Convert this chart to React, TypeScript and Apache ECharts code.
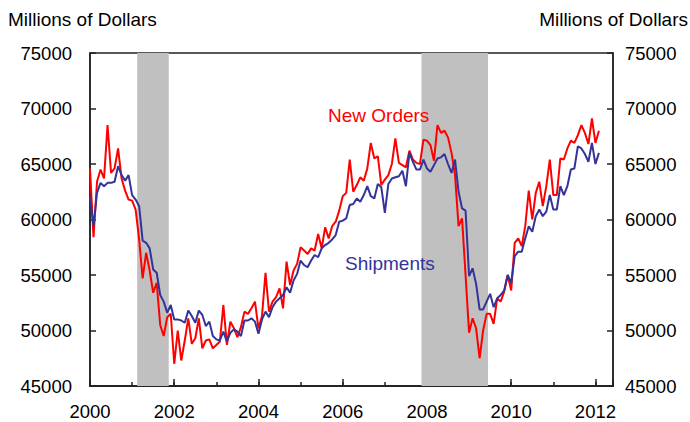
import React, { useEffect, useRef } from "react";
import * as echarts from "echarts";

const START_YEAR = 2000;
const X_MIN = 2000;
const X_MAX = 2012.417;
const Y_MIN = 45000;
const Y_MAX = 75000;
const Y_INTERVAL = 5000;

const recessions: [number, number][] = [
  [2001.12, 2001.87],
  [2007.87, 2009.45],
];

const newOrders: number[] = [
  64600, 58400, 63400, 64500, 63700, 68500, 64200, 64600, 66400, 63700, 62600, 61800,
  61700, 60900, 58200, 54700, 57000, 55400, 53400, 54300, 50500, 49500, 51200, 51500,
  47000, 50000, 47300, 49100, 51100, 48800, 49300, 51100, 48400, 49100, 49200, 48400,
  48700, 49000, 52300, 48700, 50800, 50200, 49400, 50300, 51700, 51500, 52000, 52600,
  50200, 51300, 55200, 51700, 52600, 53000, 53800, 52000, 56200, 54100, 55400, 56000,
  57500, 57200, 56900, 57400, 57200, 58700, 57400, 59300, 58300, 59400, 59800, 60800,
  62100, 62400, 65400, 62500, 63100, 63800, 63500, 64600, 66900, 65500, 65700, 63100,
  63600, 64000, 65000, 67300, 65100, 64900, 64700, 66200, 65400, 65100, 65000, 67200,
  67100, 66700, 65300, 68500, 67800, 68000, 67400, 66000, 64000, 59400, 60100, 55000,
  49800, 51100, 50200, 47500, 50000, 51500, 51500, 50600, 52900, 52600, 53500, 55000,
  53600, 57900, 58300, 57600, 59400, 62600, 60000, 62400, 63400, 61200, 63000, 65400,
  62200, 62200, 65500, 65400, 66400, 67100, 66900, 67600, 68500, 67800, 66800, 69100,
  66900, 68000,
];

const shipments: number[] = [
  62000, 59400, 62400, 63300, 63000, 63300, 63300, 63400, 64800, 64000, 63500, 64000,
  62200, 61800, 61200, 58100, 57900, 57400, 55500, 55200, 53200, 52600, 51600, 52300,
  51000, 51000, 50900, 50700, 51800, 51300, 50700, 51800, 51400, 50400, 50800, 49500,
  49200, 49100, 49900, 49000, 49800, 50100, 49900, 49500, 50900, 50900, 51100, 50800,
  49700, 51000, 51700, 51200, 52100, 52600, 52900, 53200, 53900, 53400, 54500, 55100,
  56300, 55900, 55700, 56300, 56800, 56600, 57400, 57700, 57900, 58200, 58600, 59800,
  59900, 60100, 61300, 61400, 61900, 61600, 62200, 63000, 62100, 61900, 63200, 62900,
  60600, 63200, 63700, 63800, 63900, 64400, 63000, 66000, 65200, 64500, 64500, 65400,
  64600, 64300, 64900, 65500, 65600, 65900, 65000, 64200, 65400, 62500, 61000, 60800,
  54900, 55600, 54200, 51900, 51900, 52600, 53300, 52100, 52900, 53200, 53600, 55000,
  54300, 56700, 57100, 57100, 58300, 59400, 58900, 60300, 60900, 60300, 60700, 62200,
  60900, 60900, 63000, 62200, 63000, 64500, 64600, 66600, 66400, 65900, 65200, 66900,
  65000, 66000,
];

const FONT = "'Liberation Sans', Arial, sans-serif";
const AXIS_COLOR = "#222";

export default function App() {
  const ref = useRef<HTMLDivElement>(null);

  useEffect(() => {
    if (!ref.current) return;
    const chart = echarts.init(ref.current, undefined, { renderer: "svg" });
    const toXY = (arr: number[]) => arr.map((v, i) => [START_YEAR + i / 12, v]);

    const yAxisBase = {
      type: "value" as const,
      min: Y_MIN,
      max: Y_MAX,
      interval: Y_INTERVAL,
      splitLine: { show: false },
      axisLine: { show: true, lineStyle: { color: AXIS_COLOR, width: 1.5 } },
      axisTick: { show: true, inside: true, length: 6, lineStyle: { color: AXIS_COLOR, width: 1.5 } },
    };

    const yLabel = (v: number) => String(Math.round(v));

    const xAxisBase = {
      type: "value" as const,
      min: X_MIN,
      max: X_MAX,
      position: "bottom" as const,
      splitLine: { show: false },
      axisLine: { show: true, onZero: false, lineStyle: { color: AXIS_COLOR, width: 1.5 } },
    };

    chart.setOption({
      animation: false,
      backgroundColor: "#fff",
      grid: {
        left: 90,
        right: 77,
        top: 53,
        bottom: 36,
        show: true,
        borderColor: AXIS_COLOR,
        borderWidth: 1.5,
        backgroundColor: "transparent",
      },
      xAxis: [
        {
          ...xAxisBase,
          interval: 1,
          axisTick: { show: true, inside: true, length: 4, lineStyle: { color: AXIS_COLOR, width: 1.5 } },
          axisLabel: { show: false },
        },
        {
          ...xAxisBase,
          interval: 2,
          axisTick: { show: true, inside: true, length: 7, lineStyle: { color: AXIS_COLOR, width: 1.5 } },
          axisLabel: {
            show: true,
            margin: 16,
            color: "#000",
            fontSize: 18.5,
            fontFamily: FONT,
            formatter: (v: number) =>
              Number.isInteger(v) && v % 2 === 0 && v <= 2012 ? String(v) : "",
          },
        },
      ],
      yAxis: [
        {
          ...yAxisBase,
          position: "left",
          axisLabel: { margin: 18, color: "#000", fontSize: 18.5, fontFamily: FONT, formatter: yLabel },
        },
        {
          ...yAxisBase,
          position: "right",
          axisLabel: { margin: 12, color: "#000", fontSize: 18.5, fontFamily: FONT, formatter: yLabel },
        },
      ],
      series: [
        {
          name: "Recessions",
          type: "line",
          xAxisIndex: 0,
          yAxisIndex: 0,
          data: [],
          silent: true,
          markArea: {
            silent: true,
            itemStyle: { color: "#C0C0C0", opacity: 1 },
            data: recessions.map(([a, b]) => [{ xAxis: a }, { xAxis: b }]),
          },
          z: 1,
        },
        {
          name: "Shipments",
          type: "line",
          xAxisIndex: 0,
          yAxisIndex: 0,
          data: toXY(shipments),
          showSymbol: false,
          lineStyle: { color: "#333399", width: 2 },
          itemStyle: { color: "#333399" },
          z: 3,
        },
        {
          name: "New Orders",
          type: "line",
          xAxisIndex: 0,
          yAxisIndex: 0,
          data: toXY(newOrders),
          showSymbol: false,
          lineStyle: { color: "#FF0000", width: 2 },
          itemStyle: { color: "#FF0000" },
          z: 2,
        },
      ],
      graphic: [
        {
          type: "text",
          x: 8,
          y: 19,
          style: {
            text: "Millions of Dollars",
            fill: "#000",
            font: `19px ${FONT}`,
            textAlign: "left",
            textVerticalAlign: "middle",
          },
        },
        {
          type: "text",
          x: 688,
          y: 19,
          style: {
            text: "Millions of Dollars",
            fill: "#000",
            font: `19px ${FONT}`,
            textAlign: "right",
            textVerticalAlign: "middle",
          },
        },
        {
          type: "text",
          x: 328,
          y: 115,
          z: 10,
          style: {
            text: "New Orders",
            fill: "#FF0000",
            font: `19px ${FONT}`,
            textAlign: "left",
            textVerticalAlign: "middle",
          },
        },
        {
          type: "text",
          x: 345,
          y: 263,
          z: 10,
          style: {
            text: "Shipments",
            fill: "#333399",
            font: `19px ${FONT}`,
            textAlign: "left",
            textVerticalAlign: "middle",
          },
        },
      ],
    });

    return () => chart.dispose();
  }, []);

  return (
    <div
      ref={ref}
      style={{ position: "fixed", left: 0, top: 0, width: 690, height: 422 }}
    />
  );
}
